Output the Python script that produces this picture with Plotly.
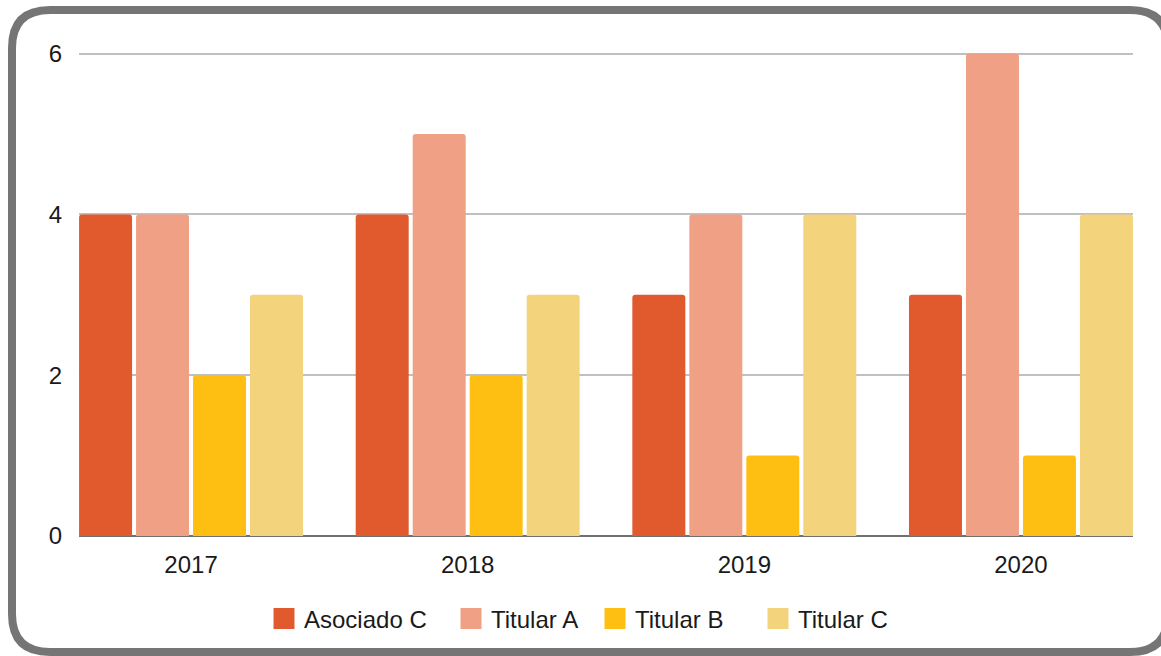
import plotly.graph_objects as go

years = ["2017", "2018", "2019", "2020"]
series_names = ["Asociado C", "Titular A", "Titular B", "Titular C"]
asociado_c = [4, 4, 3, 3]
titular_a = [4, 5, 4, 6]
titular_b = [2, 2, 1, 1]
titular_c = [3, 3, 4, 4]
y_ticks = [0, 2, 4, 6]

colors = ["#E05A2E", "#F0A085", "#FFBF12", "#F3D47C"]
values = [asociado_c, titular_a, titular_b, titular_c]
legend_left_px = [274, 461, 605, 768]

W, H = 1161, 656
L, R, T, B = 79, 28, 52, 120
PW, PH = W - L - R, H - T - B
Y_TOP = 6.02

fig = go.Figure()
for name, vals, col in zip(series_names, values, colors):
    fig.add_trace(go.Bar(x=years, y=vals, name=name, showlegend=False,
                         marker=dict(color=col, line=dict(width=0))))
# legend entries (square swatches), one legend per entry for spacing
legend_ids = ["legend", "legend2", "legend3", "legend4"]
for name, col, lid in zip(series_names, colors, legend_ids):
    fig.add_trace(go.Scatter(x=[None], y=[None], mode="markers", name=name, legend=lid,
                             marker=dict(symbol="square", size=16, color=col,
                                         line=dict(color=col, width=5))))


def px(x):
    return (x - L) / PW


def py(y):
    return (H - B - y) / PH


# rounded border (pixel positions converted to paper coords)
x0, x1, y0, y1, r = 12, 1168, 10, 652, 38
path = (
    f"M {px(x0 + r)},{py(y0)} L {px(x1 - r)},{py(y0)} "
    f"Q {px(x1)},{py(y0)} {px(x1)},{py(y0 + r)} "
    f"L {px(x1)},{py(y1 - r)} Q {px(x1)},{py(y1)} {px(x1 - r)},{py(y1)} "
    f"L {px(x0 + r)},{py(y1)} Q {px(x0)},{py(y1)} {px(x0)},{py(y1 - r)} "
    f"L {px(x0)},{py(y0 + r)} Q {px(x0)},{py(y0)} {px(x0 + r)},{py(y0)} Z"
)

legend_common = dict(
    orientation="h",
    xref="container",
    yref="container",
    xanchor="left",
    y=1 - 619 / H,
    yanchor="middle",
    font=dict(size=24, color="#1a1a1a"),
    itemsizing="trace",
    itemwidth=30,
    bgcolor="rgba(0,0,0,0)",
)
legend_layout = {}
for lid, lx in zip(legend_ids, legend_left_px):
    legend_layout[lid] = dict(legend_common, x=(lx - 10) / W)

fig.update_layout(
    width=W,
    height=H,
    margin=dict(l=L, r=R, t=T, b=B, pad=0),
    paper_bgcolor="white",
    plot_bgcolor="white",
    font=dict(family="Liberation Sans, Arial, sans-serif", size=24, color="#1a1a1a"),
    barmode="group",
    bargap=0.176,
    bargroupgap=0.07,
    barcornerradius=3,
    showlegend=True,
    xaxis=dict(
        range=[-0.405, 3.405],
        showgrid=False,
        showline=False,
        ticks="",
        ticklabelstandoff=12,
        fixedrange=True,
    ),
    yaxis=dict(
        range=[0, Y_TOP],
        tickvals=y_ticks,
        showgrid=True,
        gridcolor="#c0c0c0",
        gridwidth=1.5,
        zeroline=True,
        zerolinecolor="#707070",
        zerolinewidth=2,
        showline=False,
        ticks="",
        ticklabelstandoff=16,
        fixedrange=True,
    ),
    shapes=[
        dict(
            type="path",
            xref="paper",
            yref="paper",
            path=path,
            line=dict(color="#757575", width=8),
            fillcolor="rgba(0,0,0,0)",
            layer="above",
        )
    ],
    **legend_layout,
)

fig.write_html(
    "out.html",
    config={"displayModeBar": False},
    post_script="document.body.style.margin='0';document.body.style.overflow='hidden';",
)
